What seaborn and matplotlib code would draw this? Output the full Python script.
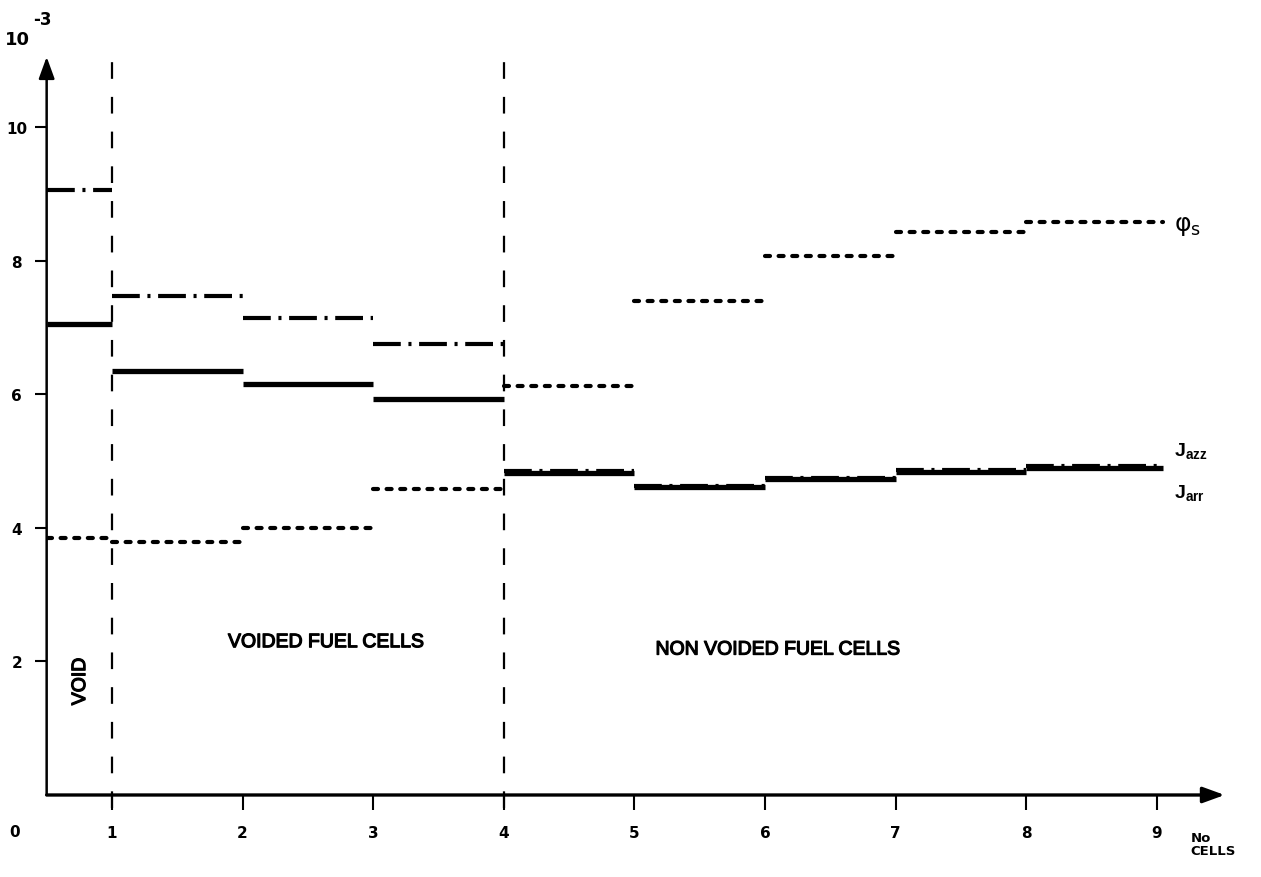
import matplotlib
matplotlib.use("Agg")
import matplotlib.pyplot as plt
import matplotlib.patheffects as pe
import pandas as pd
import seaborn as sns

# Cell boundaries along the traverse (void half-cell, then fuel cells 1..9)
cell_edges = [0.5, 1, 2, 3, 4, 5, 6, 7, 8, 9.05]

# Values per cell (x 10^-3)
phi_s = [3.85, 3.79, 4.00, 4.58, 6.12, 7.40, 8.07, 8.43, 8.58]
j_azz = [9.06, 7.47, 7.14, 6.75, 4.85, 4.62, 4.74, 4.86, 4.92]
j_arr = [7.05, 6.35, 6.15, 5.93, 4.82, 4.61, 4.73, 4.84, 4.89]

x_ticks = [1, 2, 3, 4, 5, 6, 7, 8, 9]
y_ticks = [2, 4, 6, 8, 10]
region_bounds = [1, 4]


def step_frame(values):
    rows = []
    for i, v in enumerate(values):
        rows.append({"x": cell_edges[i], "y": v, "seg": i})
        rows.append({"x": cell_edges[i + 1], "y": v, "seg": i})
    return pd.DataFrame(rows)


sns.set_style("white")
plt.rcParams["font.family"] = ["Liberation Sans", "DejaVu Sans"]
plt.rcParams["lines.scale_dashes"] = False
for key in ("text.color", "axes.labelcolor", "xtick.color", "ytick.color"):
    plt.rcParams[key] = "black"

fig = plt.figure(figsize=(12.61, 8.78), dpi=100)
ax = fig.add_axes([0.0370, 0.0934, 0.9373, 0.8483])
ax.set_xlim(0.5, 9.55)
ax.set_ylim(0, 11.15)

# Region separators
for b in region_bounds:
    ax.plot([b, b], [-0.2, 11.0], color="black", lw=1.6,
            linestyle=(0, (12, 13)), clip_on=False, zorder=1)

# Step series
sns.lineplot(data=step_frame(j_arr), x="x", y="y", units="seg", estimator=None,
             color="black", lw=3.8, legend=False, ax=ax, zorder=3,
             solid_capstyle="butt")
sns.lineplot(data=step_frame(j_azz), x="x", y="y", units="seg", estimator=None,
             color="black", lw=3.0, legend=False, ax=ax, zorder=3,
             linestyle=(0, (20, 5.5, 2.2, 5.5)))
sns.lineplot(data=step_frame(phi_s), x="x", y="y", units="seg", estimator=None,
             color="black", lw=3.0, legend=False, ax=ax, zorder=3,
             linestyle=(0, (3.6, 6.2)), dash_capstyle="round")

# Axes with arrow heads
for s in ax.spines.values():
    s.set_visible(False)
arrow = dict(arrowstyle="-|>,head_length=0.55,head_width=0.2", color="black",
             mutation_scale=24, shrinkA=0, shrinkB=0)
ax.annotate("", xy=(9.52, 0), xytext=(0.5, 0),
            arrowprops=dict(arrow, lw=2.4), annotation_clip=False)
ax.annotate("", xy=(0.5, 11.05), xytext=(0.5, 0),
            arrowprops=dict(arrow, lw=1.8), annotation_clip=False)

ax.set_xticks(x_ticks)
ax.set_xticklabels([str(t) for t in x_ticks])
ax.set_yticks(y_ticks)
ax.set_yticklabels([str(t) for t in y_ticks])
ax.tick_params(axis="x", direction="out", length=10.5, width=1.5, pad=11,
               labelsize=11, bottom=True)
ax.tick_params(axis="y", direction="out", length=8.5, width=1.5, pad=13,
               labelsize=11, left=True)
for lbl in ax.get_xticklabels() + ax.get_yticklabels():
    lbl.set_fontweight("bold")
    lbl.set_family("DejaVu Sans")
for lbl in ax.get_yticklabels():
    lbl.set_ha("center")
ax.set_xlabel("")
ax.set_ylabel("")

# Origin, scale factor and axis caption
ax.text(0.255, -0.55, "0", ha="center", va="center", fontsize=11,
        fontweight="bold", family="DejaVu Sans", clip_on=False)
ax.text(0.278, 11.32, "10", ha="center", va="center", fontsize=13,
        fontweight="bold", family="DejaVu Sans", clip_on=False)
ax.text(0.469, 11.62, "-3", ha="center", va="center", fontsize=12,
        fontweight="bold", family="DejaVu Sans", clip_on=False)
ax.text(9.26, -0.74, "No\nCELLS", ha="left", va="center", fontsize=9.5,
        fontweight="bold", family="DejaVu Sans", linespacing=1.0,
        clip_on=False)

# Region annotations
thick = [pe.withStroke(linewidth=0.9, foreground="black")]
ax.text(0.76, 1.7, "VOID", rotation=90, ha="center", va="center",
        fontsize=14, path_effects=thick)
ax.text(2.64, 2.28, "VOIDED FUEL CELLS", ha="center", va="center",
        fontsize=14, path_effects=thick)
ax.text(6.10, 2.17, "NON VOIDED FUEL CELLS", ha="center", va="center",
        fontsize=14, path_effects=thick)

# Series labels
ax.text(9.13, 8.53, r"$\mathrm{\varphi_s}$", ha="left", va="center",
        fontsize=18, fontweight="bold", clip_on=False)
ax.text(9.13, 5.16, r"$\mathregular{J_{azz}}$", ha="left", va="center",
        fontsize=14, fontweight="bold", clip_on=False)
ax.text(9.13, 4.54, r"$\mathregular{J_{arr}}$", ha="left", va="center",
        fontsize=14, fontweight="bold", clip_on=False)

fig.savefig("out.png", dpi=100)
